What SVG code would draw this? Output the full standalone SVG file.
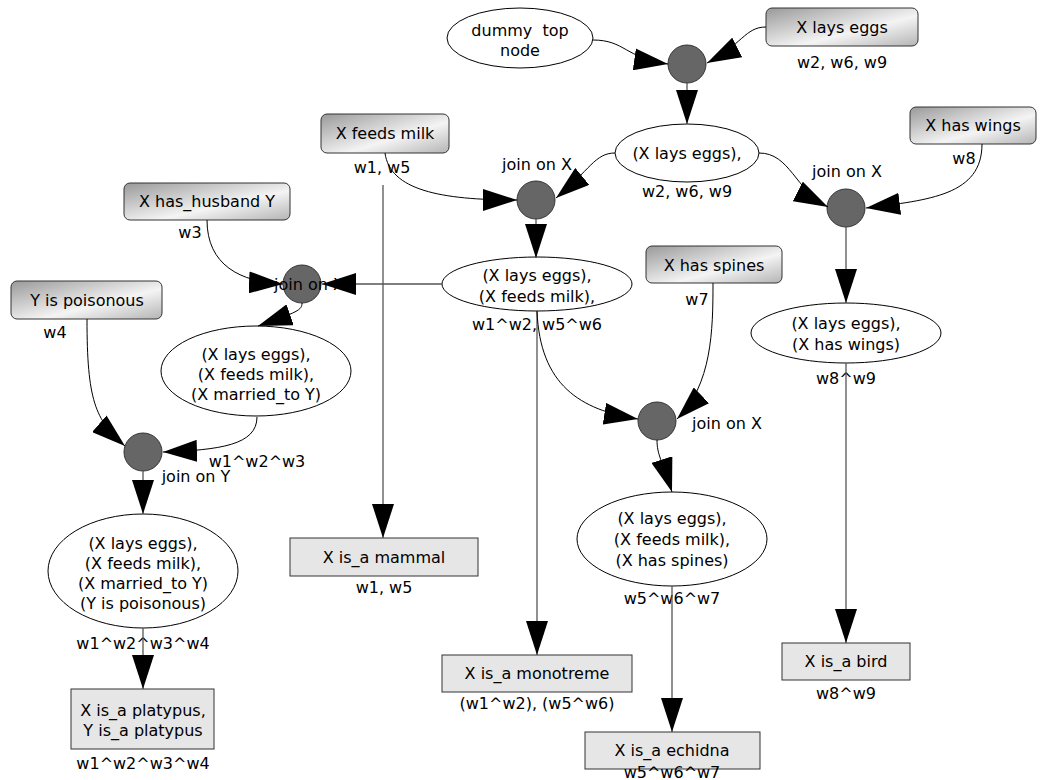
<svg xmlns="http://www.w3.org/2000/svg" width="1049" height="780" viewBox="0 0 1049 780">
<style>
text{font-family:"DejaVu Sans","Liberation Sans",sans-serif;font-size:16px;fill:#000;text-anchor:middle;dominant-baseline:central}
.src{fill:url(#g);stroke:#333;stroke-width:1}
.res{fill:#e6e6e6;stroke:#333;stroke-width:1}
.ell{fill:#fff;stroke:#000;stroke-width:1}
.join{fill:#666;stroke:#333;stroke-width:1}
.c{fill:none;stroke:#000;stroke-width:1;marker-end:url(#a)}
.s{fill:none;stroke:#555;stroke-width:1.3;marker-end:url(#a)}
</style>
<defs>
<linearGradient id="g" x1="0" y1="0" x2="1" y2="1">
<stop offset="0" stop-color="#999"/>
<stop offset="0.6" stop-color="#f4f4f4"/>
<stop offset="1" stop-color="#b4b4b4"/>
</linearGradient>
<marker id="a" markerUnits="userSpaceOnUse" markerWidth="34" markerHeight="22" refX="34" refY="11" orient="auto" viewBox="0 0 34 22">
<path d="M0,0 L34,11 L0,22 z" fill="#000"/>
</marker>
</defs>
<rect width="1049" height="780" fill="#fff"/>

<g id="dummy"><ellipse class="ell" cx="520" cy="38" rx="73" ry="30"/><text x="520" y="30" style="white-space:pre">dummy  top</text><text x="520" y="50">node</text></g>
<g id="joinTop"><circle class="join" cx="687" cy="64" r="19"/></g>
<g id="layseggs"><rect class="src" x="766" y="8" width="152" height="38" rx="6"/><text x="842" y="27">X lays eggs</text><text x="842" y="62">w2, w6, w9</text></g>
<g id="e1"><ellipse class="ell" cx="687" cy="153" rx="72" ry="29"/><text x="687" y="153">(X lays eggs),</text><text x="687" y="191">w2, w6, w9</text></g>
<g id="feedsmilk"><rect class="src" x="321" y="114" width="128" height="39" rx="6"/><text x="385" y="133">X feeds milk</text><text x="382" y="167">w1, w5</text></g>
<g id="joinL"><circle class="join" cx="536" cy="200" r="19"/><text x="537" y="164">join on X</text></g>
<g id="joinR"><circle class="join" cx="846" cy="208" r="19"/><text x="847" y="171">join on X</text></g>
<g id="haswings"><rect class="src" x="910" y="107" width="126" height="37" rx="6"/><text x="973" y="125">X has wings</text><text x="964" y="158">w8</text></g>
<g id="ewings"><ellipse class="ell" cx="846" cy="333" rx="95" ry="30"/><text x="846" y="323">(X lays eggs),</text><text x="846" y="344">(X has wings)</text><text x="846" y="378">w8^w9</text></g>
<g id="emid"><ellipse class="ell" cx="537" cy="284" rx="95" ry="27"/><text x="537" y="275">(X lays eggs),</text><text x="537" y="296">(X feeds milk),</text><text x="537" y="324">w1^w2, w5^w6</text></g>
<g id="husband"><rect class="src" x="124" y="183" width="166" height="37" rx="6"/><text x="207" y="201">X has_husband Y</text><text x="190" y="232">w3</text></g>
<g id="joinTL"><circle class="join" cx="302" cy="284" r="19"/><text x="274" y="284" style="text-anchor:start">join on X</text></g>
<g id="poison"><rect class="src" x="11" y="281" width="151" height="38" rx="6"/><text x="87" y="300">Y is poisonous</text><text x="55" y="332">w4</text></g>
<g id="emarried"><ellipse class="ell" cx="256" cy="371" rx="95" ry="45"/><text x="256" y="354">(X lays eggs),</text><text x="256" y="374">(X feeds milk),</text><text x="256" y="394">(X married_to Y)</text><text x="257" y="461">w1^w2^w3</text></g>
<g id="joinY"><circle class="join" cx="143" cy="452" r="19"/><text x="196" y="476">join on Y</text></g>
<g id="eplat"><ellipse class="ell" cx="143" cy="571" rx="95" ry="57"/><text x="143" y="543">(X lays eggs),</text><text x="143" y="563">(X feeds milk),</text><text x="143" y="583">(X married_to Y)</text><text x="143" y="603">(Y is poisonous)</text><text x="143" y="643">w1^w2^w3^w4</text></g>
<g id="platypus"><rect class="res" x="71" y="689" width="143" height="60"/><text x="143" y="710">X is_a platypus,</text><text x="143" y="730">Y is_a platypus</text><text x="143" y="763">w1^w2^w3^w4</text></g>
<g id="mammal"><rect class="res" x="290" y="538" width="188" height="38"/><text x="384" y="557">X is_a mammal</text><text x="384" y="587">w1, w5</text></g>
<g id="monotreme"><rect class="res" x="442" y="655" width="190" height="37"/><text x="537" y="673">X is_a monotreme</text><text x="537" y="703">(w1^w2), (w5^w6)</text></g>
<g id="spines"><rect class="src" x="646" y="246" width="136" height="37" rx="6"/><text x="714" y="265">X has spines</text><text x="697" y="299">w7</text></g>
<g id="joinE"><circle class="join" cx="657" cy="421" r="19"/><text x="727" y="423">join on X</text></g>
<g id="eech"><ellipse class="ell" cx="672" cy="539" rx="95" ry="47"/><text x="672" y="518">(X lays eggs),</text><text x="672" y="539">(X feeds milk),</text><text x="672" y="560">(X has spines)</text><text x="672" y="598">w5^w6^w7</text></g>
<g id="echidna"><rect class="res" x="585" y="732" width="175" height="37"/><text x="672" y="750">X is_a echidna</text><text x="672" y="772">w5^w6^w7</text></g>
<g id="bird"><rect class="res" x="782" y="643" width="128" height="37"/><text x="846" y="661">X is_a bird</text><text x="846" y="693">w8^w9</text></g>

<g id="connectors">
<path class="c" d="M593,40 C625,40 625,58 668,64"/>
<path class="c" d="M766,27 C745,27 742,45 707,63"/>
<path class="s" d="M687,83 L687,124"/>
<path class="c" d="M615,153 C595,153 590,170 556,198"/>
<path class="c" d="M759,153 C790,153 795,190 828,207"/>
<path class="c" d="M982,144 C982,195 930,200 866,208"/>
<path class="s" d="M846,227 L846,303"/>
<path class="s" d="M846,363 L846,643"/>
<path class="c" d="M385,153 C390,190 440,200 517,200"/>
<path class="s" d="M383,185 L383,538"/>
<path class="s" d="M536,219 L536,258"/>
<path class="s" d="M442,284 L322,284"/>
<path class="s" d="M537,311 L537,655"/>
<path class="c" d="M537,311 C540,385 580,410 638,419"/>
<path class="c" d="M713,283 C713,330 712,385 677,419"/>
<path class="c" d="M657,440 C657,455 662,460 672,492"/>
<path class="s" d="M672,586 L672,732"/>
<path class="c" d="M207,220 C207,265 240,282 283,284"/>
<path class="c" d="M302,303 C302,310 298,312 258,326"/>
<path class="c" d="M87,319 C87,400 95,420 125,446"/>
<path class="c" d="M257,417 C257,445 220,450 163,452"/>
<path class="s" d="M143,471 L143,514"/>
<path class="s" d="M143,628 L143,689"/>
</g>
</svg>
